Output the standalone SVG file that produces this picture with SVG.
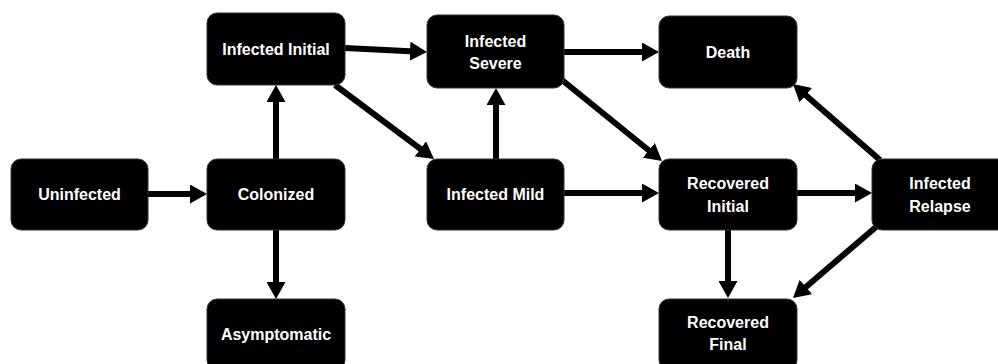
<svg xmlns="http://www.w3.org/2000/svg" width="998" height="364" viewBox="0 0 998 364">
<style>
.box{fill:#000;stroke:#333;stroke-width:1}
.lbl{fill:#fff;font-family:"Liberation Sans",Arial,sans-serif;font-weight:bold;font-size:16px;text-anchor:middle}
.edge{stroke:#000;stroke-width:6;fill:none;marker-end:url(#ah)}
</style>
<defs>
<marker id="ah" markerUnits="userSpaceOnUse" markerWidth="18" markerHeight="19" refX="5" refY="9.5" orient="auto">
<path d="M0,0 L17,9.5 L0,19 z" fill="#000"/>
</marker>
</defs>
<rect width="998" height="364" fill="#fff"/>
<g id="connectors">
<line class="edge" x1="148" y1="194" x2="195" y2="194"/>
<line class="edge" x1="276" y1="159" x2="276" y2="97"/>
<line class="edge" x1="276" y1="230" x2="276" y2="287"/>
<line class="edge" x1="345" y1="48" x2="415" y2="51.4"/>
<line class="edge" x1="335" y1="85" x2="424.4" y2="151.8"/>
<line class="edge" x1="496" y1="159" x2="496" y2="100"/>
<line class="edge" x1="564" y1="52" x2="647" y2="52"/>
<line class="edge" x1="562" y1="80" x2="652.7" y2="153.5"/>
<line class="edge" x1="564" y1="193" x2="647" y2="193"/>
<line class="edge" x1="797" y1="193" x2="860" y2="193"/>
<line class="edge" x1="880" y1="160" x2="802" y2="91.9"/>
<line class="edge" x1="728" y1="230" x2="728" y2="286"/>
<line class="edge" x1="876" y1="227" x2="802.1" y2="290.2"/>
</g>
<g id="uninfected"><rect class="box" x="11" y="159" width="137" height="71" rx="10"/><text class="lbl" x="79.5" y="200">Uninfected</text></g>
<g id="colonized"><rect class="box" x="207" y="159" width="138" height="71" rx="10"/><text class="lbl" x="276" y="200">Colonized</text></g>
<g id="asymptomatic"><rect class="box" x="207" y="299" width="138" height="71" rx="10"/><text class="lbl" x="276" y="340">Asymptomatic</text></g>
<g id="infected-initial"><rect class="box" x="207" y="13" width="138" height="72" rx="10"/><text class="lbl" x="276" y="55">Infected Initial</text></g>
<g id="infected-severe"><rect class="box" x="427" y="15" width="137" height="73" rx="10"/><text class="lbl" x="495.5" y="47">Infected</text><text class="lbl" x="495.5" y="69">Severe</text></g>
<g id="infected-mild"><rect class="box" x="427" y="159" width="137" height="71" rx="10"/><text class="lbl" x="495.5" y="200">Infected Mild</text></g>
<g id="death"><rect class="box" x="659" y="16" width="138" height="72" rx="10"/><text class="lbl" x="728" y="58">Death</text></g>
<g id="recovered-initial"><rect class="box" x="659" y="159" width="138" height="71" rx="10"/><text class="lbl" x="728" y="189">Recovered</text><text class="lbl" x="728" y="212">Initial</text></g>
<g id="infected-relapse"><rect class="box" x="872" y="159" width="136" height="71" rx="10"/><text class="lbl" x="940" y="189">Infected</text><text class="lbl" x="940" y="212">Relapse</text></g>
<g id="recovered-final"><rect class="box" x="659" y="299" width="138" height="71" rx="10"/><text class="lbl" x="728" y="328">Recovered</text><text class="lbl" x="728" y="350">Final</text></g>
</svg>
